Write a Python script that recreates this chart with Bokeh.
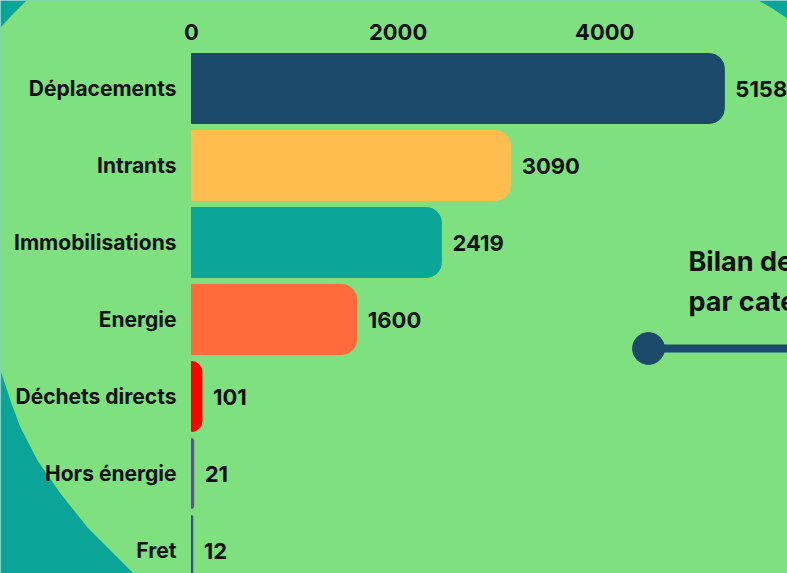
from bokeh.plotting import figure
from bokeh.models import Range1d, FixedTicker, PolyAnnotation, Label
from bokeh.embed import file_html
from bokeh.resources import INLINE
from bokeh.core.properties import value

# ---- data ----
categories = ["Déplacements", "Intrants", "Immobilisations", "Energie",
              "Déchets directs", "Hors énergie", "Fret"]
values = [5158, 3090, 2419, 1600, 101, 21, 12]
colors = ["#1b4a6b", "#ffbd4f", "#0ba699", "#ff6b3b", "#ff0000", "#6b45a5", "#3b4a8c"]
x_ticks = [0, 2000, 4000]
title_lines = ["Bilan des émissions", "par catégorie"]

# ---- layout constants ----
W, H = 787, 573
LEFT, TOP = 191, 50
PX_PER_UNIT = 0.1033
ROW0, ROW_STEP = 88, 77
GREEN = "#7ee07e"
TEAL = "#0ba499"
FONT = "Inter"

def dx(px):
    return (px - LEFT) / PX_PER_UNIT

def dy(py):
    return (py - ROW0) / ROW_STEP

p = figure(width=W, height=H, output_backend="svg", toolbar_location=None,
           x_range=Range1d(dx(0), dx(W)), y_range=Range1d(dy(H), dy(0)),
           x_axis_location="above",
           min_border_left=0, min_border_top=0,
           min_border_right=0, min_border_bottom=0)
p.background_fill_color = TEAL
p.border_fill_color = TEAL
p.outline_line_color = None
p.grid.visible = False

# decorative green blob (pixel outline converted to data space)
blob_px = [(-20, 47), (0, 27), (12, 14), (26, 0), (46, -20), (726, -20), (758, 0),
           (772, 8), (787, 18), (807, 30), (807, 600), (160, 600), (133, 573),
           (120, 560), (87, 527), (60, 493), (37, 460), (20, 427), (11, 403),
           (0, 370), (-8, 350)]
blob = PolyAnnotation(xs=[dx(a) for a, b in blob_px], ys=[dy(b) for a, b in blob_px],
                      fill_color=GREEN, fill_alpha=1, line_color=None, level="underlay")
p.add_layout(blob)

idx = list(range(len(categories)))
p.hbar(y=idx, left=0, right=values, height=70 / 77, color=colors,
       border_radius=(0, 15, 15, 0))

p.text(x=values, y=idx, text=[str(v) for v in values], x_offset=11,
       text_baseline="middle", text_align="left", text_font=value(FONT),
       text_font_style="bold", text_font_size="22px", text_color="#111111")

# axes (fixed inside the frame so the frame spans the whole canvas)
xa = p.xaxis[0]
xa.fixed_location = dy(TOP)
xa.ticker = FixedTicker(ticks=x_ticks)
xa.axis_line_color = None
xa.major_tick_line_color = None
xa.minor_tick_line_color = None
xa.major_label_standoff = 5
xa.major_label_text_font = FONT
xa.major_label_text_font_style = "bold"
xa.major_label_text_font_size = "22px"
xa.major_label_text_color = "#111111"

ya = p.yaxis[0]
ya.fixed_location = 0
ya.ticker = FixedTicker(ticks=idx)
ya.major_label_overrides = {i: c for i, c in zip(idx, categories)}
ya.axis_line_color = None
ya.major_tick_line_color = None
ya.minor_tick_line_color = None
ya.major_label_standoff = 9
ya.major_label_text_font = FONT
ya.major_label_text_font_style = "bold"
ya.major_label_text_font_size = "21px"
ya.major_label_text_color = "#111111"

# title and connector decoration
for i, line in enumerate(title_lines):
    p.add_layout(Label(x=dx(688), y=dy(261 + 40 * i), text=line, text_font=FONT,
                       text_font_style="bold", text_font_size="27px",
                       text_color="#111111", text_baseline="alphabetic"))
p.segment(x0=[dx(648)], y0=[dy(348)], x1=[dx(820)], y1=[dy(348)],
          line_color="#1b4a6b", line_width=8)
p.scatter(x=[dx(648)], y=[dy(348)], size=32, color="#1b4a6b")

open("out.html", "w").write(file_html(p, INLINE))
